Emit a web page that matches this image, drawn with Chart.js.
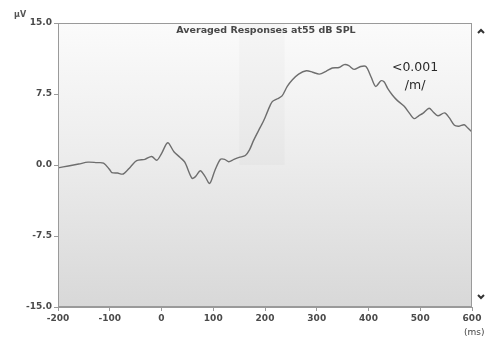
<!DOCTYPE html>
<html>
<head>
<meta charset="utf-8">
<script src="https://cdn.jsdelivr.net/npm/chart.js@4.4.1/dist/chart.umd.min.js"></script>
<style>
  html, body { margin: 0; padding: 0; background: #ffffff; }
  #wrap { position: relative; width: 490px; height: 340px; }
</style>
</head>
<body>
<div id="wrap"><canvas id="erp" width="490" height="340"></canvas></div>
<script>
// Averaged evoked response waveform (latency in ms, amplitude in µV)
const latencyMs = [
  -200, -180, -160, -142, -125, -112, -100, -96, -85, -74, -60, -48, -32, -19, -9,
  0, 12, 24, 36, 45, 59, 66, 75, 84, 93, 103, 114, 122, 130, 140, 150, 162, 170,
  178, 191, 198, 206, 214, 224, 233, 243, 253, 265, 280, 292, 305, 318, 330, 343,
  353, 362, 372, 385, 395, 405, 414, 424, 430, 437, 446, 456, 469, 480, 488, 497,
  505, 517, 525, 534, 547, 556, 566, 575, 585, 592, 600
];
const amplitudeUv = [
  -0.3, -0.1, 0.1, 0.3, 0.25, 0.2, -0.5, -0.8, -0.85, -0.95, -0.2, 0.45, 0.6, 0.9, 0.5,
  1.2, 2.35, 1.4, 0.8, 0.3, -1.4, -1.2, -0.6, -1.2, -1.95, -0.6, 0.6, 0.6, 0.35, 0.6, 0.8, 1.0, 1.6,
  2.6, 4.0, 4.75, 5.8, 6.7, 7.0, 7.3, 8.3, 9.0, 9.6, 9.95, 9.8, 9.6, 9.9, 10.25, 10.3,
  10.6, 10.5, 10.1, 10.4, 10.4, 9.3, 8.3, 8.9, 8.8, 8.1, 7.4, 6.8, 6.2, 5.4, 4.9, 5.2,
  5.45, 6.0, 5.6, 5.2, 5.5, 5.0, 4.2, 4.1, 4.25, 3.9, 3.5
];

// Axis ticks
const xTicks = [-200, -100, 0, 100, 200, 300, 400, 500, 600];
const yTicks = [-15, -7.5, 0, 7.5, 15];

// Analysis window shading (ms range, µV range)
const windowMs = [150, 238];
const windowUv = [0, 15];

const chartTitle = 'Averaged Responses at55 dB SPL';
const pLabel = ['<0.001', '/m/'];
const pLabelAt = [490, 10.3]; // ms, µV

const points = latencyMs.map((t, i) => ({ x: t, y: amplitudeUv[i] }));

const tickFont = { family: 'DejaVu Sans', size: 9, weight: 'bold' };
const tickColor = '#4a4a4a';
const axisColor = '#9a9a9a';

const decor = {
  id: 'decor',
  beforeDatasetsDraw(chart) {
    const { ctx, chartArea: a, scales } = chart;
    ctx.save();
    // plot background gradient
    const g = ctx.createLinearGradient(0, a.top, 0, a.bottom);
    g.addColorStop(0, '#fbfbfb');
    g.addColorStop(0.45, '#ededed');
    g.addColorStop(1, '#d8d8d8');
    ctx.fillStyle = g;
    ctx.fillRect(a.left, a.top, a.width, a.height);
    // analysis window
    const x0 = scales.x.getPixelForValue(windowMs[0]);
    const x1 = scales.x.getPixelForValue(windowMs[1]);
    const y0 = scales.y.getPixelForValue(windowUv[1]);
    const y1 = scales.y.getPixelForValue(windowUv[0]);
    ctx.fillStyle = 'rgba(0,0,0,0.02)';
    ctx.fillRect(x0, y0, x1 - x0, y1 - y0);
    ctx.restore();
  },
  afterDraw(chart) {
    const { ctx, chartArea: a, scales } = chart;
    ctx.save();
    // title
    ctx.fillStyle = '#484848';
    ctx.font = 'bold 9.5px "DejaVu Sans"';
    ctx.textAlign = 'center';
    ctx.textBaseline = 'middle';
    ctx.fillText(chartTitle, 266, a.top + 8);
    // significance label
    const px = scales.x.getPixelForValue(pLabelAt[0]);
    const py = scales.y.getPixelForValue(pLabelAt[1]);
    ctx.fillStyle = '#2a2a2a';
    ctx.font = '12.5px "DejaVu Sans"';
    ctx.fillText(pLabel[0], px, py);
    ctx.fillText(pLabel[1], px, py + 18);
    // unit labels
    ctx.fillStyle = '#555555';
    ctx.font = 'bold 8px "DejaVu Sans"';
    ctx.textAlign = 'left';
    ctx.fillText('µV', 14, 15);
    ctx.font = '9px "DejaVu Sans"';
    ctx.fillStyle = '#444444';
    ctx.fillText('(ms)', 464, 333);
    // scroll chevrons
    ctx.strokeStyle = '#333333';
    ctx.lineWidth = 2;
    const cx = a.right + 9;
    ctx.beginPath();
    ctx.moveTo(cx - 3, a.top + 10);
    ctx.lineTo(cx, a.top + 7);
    ctx.lineTo(cx + 3, a.top + 10);
    ctx.stroke();
    ctx.beginPath();
    ctx.moveTo(cx - 3, a.bottom - 12);
    ctx.lineTo(cx, a.bottom - 9);
    ctx.lineTo(cx + 3, a.bottom - 12);
    ctx.stroke();
    // frame
    ctx.strokeStyle = axisColor;
    ctx.lineWidth = 1;
    ctx.strokeRect(a.left + 0.5, a.top + 0.5, a.width - 1, a.height - 1);
    ctx.restore();
  }
};

new Chart(document.getElementById('erp'), {
  type: 'scatter',
  data: {
    datasets: [{
      data: points,
      showLine: true,
      borderColor: '#6e6e6e',
      borderWidth: 1.4,
      pointRadius: 0,
      tension: 0.3,
      fill: false
    }]
  },
  options: {
    responsive: false,
    animation: false,
    devicePixelRatio: 1,
    layout: { padding: { top: 23, right: 18, left: 0, bottom: 0 } },
    plugins: { legend: { display: false }, tooltip: { enabled: false } },
    scales: {
      x: {
        type: 'linear',
        min: -200, max: 600,
        afterBuildTicks(s) { s.ticks = xTicks.map(v => ({ value: v })); },
        afterFit(s) { s.height = 33; },
        ticks: { font: tickFont, color: tickColor, padding: 2, maxRotation: 0 },
        grid: { drawOnChartArea: false, color: axisColor, tickLength: 4 },
        border: { color: axisColor }
      },
      y: {
        type: 'linear',
        min: -15, max: 15,
        afterBuildTicks(s) { s.ticks = yTicks.map(v => ({ value: v })); },
        afterFit(s) { s.width = 58; },
        ticks: { font: tickFont, color: tickColor, padding: 2, callback: v => v.toFixed(1) },
        grid: { drawOnChartArea: false, color: axisColor, tickLength: 4 },
        border: { color: axisColor }
      }
    }
  },
  plugins: [decor]
});
</script>
</body>
</html>
